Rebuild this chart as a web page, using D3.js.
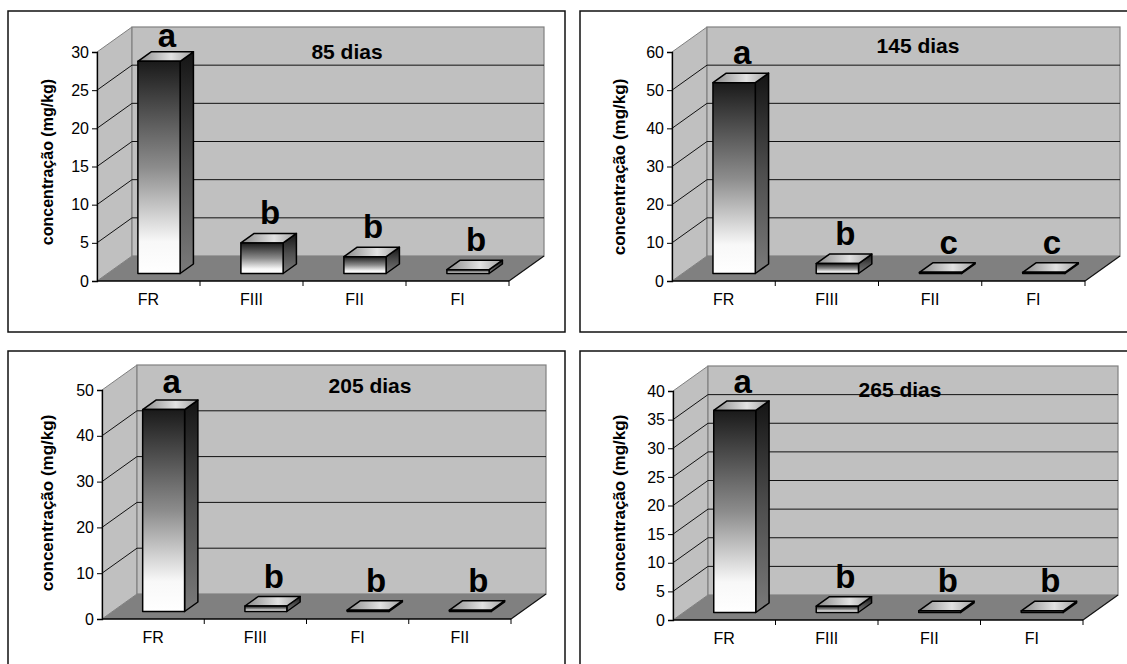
<!DOCTYPE html>
<html><head><meta charset="utf-8">
<script src="https://cdn.jsdelivr.net/npm/d3@7"></script>
<style>
body{margin:0;background:#fff}
svg{display:block}
text{font-family:"Liberation Sans",Arial,Helvetica,sans-serif}
</style>
</head><body>
<svg id="chart" width="1127" height="664"></svg>
<script>
// ---------- data ----------
const titles = ["85 dias", "145 dias", "205 dias", "265 dias"];
const yLabel = "concentração (mg/kg)";

const categories85  = ["FR", "FIII", "FII", "FI"];
const categories145 = ["FR", "FIII", "FII", "FI"];
const categories205 = ["FR", "FIII", "FI", "FII"];
const categories265 = ["FR", "FIII", "FII", "FI"];

const values85  = [27.8, 4.0, 2.2, 0.5];
const values145 = [50.0, 2.6, 0.3, 0.3];
const values205 = [44.1, 1.2, 0.3, 0.3];
const values265 = [35.3, 1.1, 0.3, 0.3];

const letters85  = ["a", "b", "b", "b"];
const letters145 = ["a", "b", "c", "c"];
const letters205 = ["a", "b", "b", "b"];
const letters265 = ["a", "b", "b", "b"];

const ticks85  = [0, 5, 10, 15, 20, 25, 30];
const ticks145 = [0, 10, 20, 30, 40, 50, 60];
const ticks205 = [0, 10, 20, 30, 40, 50];
const ticks265 = [0, 5, 10, 15, 20, 25, 30, 35, 40];

// ---------- layout ----------
const layouts = [
  {ox: 8,   oy: 11,  w: 557, h: 321, axisX: 89, y0: 270, plotW: 412, titleX: 339, titleY: 48, labX: 39, labY: 151, labSize: 16, letterGap: 5},
  {ox: 580, oy: 11,  w: 560, h: 321, axisX: 92, y0: 270, plotW: 413, titleX: 338, titleY: 42, labX: 39, labY: 156, labSize: 17, letterGap: 9},
  {ox: 8,   oy: 351, w: 557, h: 330, axisX: 94, y0: 268, plotW: 409, titleX: 362, titleY: 42, labX: 39, labY: 152, labSize: 17, letterGap: 7},
  {ox: 580, oy: 351, w: 560, h: 330, axisX: 93, y0: 269, plotW: 410, titleX: 320, titleY: 46, labX: 39, labY: 152, labSize: 17, letterGap: 8}
];
const plotH = 229, DX = 35, DY = -25, D0 = 0.3, D1 = 0.68, BAR_FRAC = 0.41;

const panels = [
  {title: titles[0], cats: categories85,  vals: values85,  letters: letters85,  ticks: ticks85},
  {title: titles[1], cats: categories145, vals: values145, letters: letters145, ticks: ticks145},
  {title: titles[2], cats: categories205, vals: values205, letters: letters205, ticks: ticks205},
  {title: titles[3], cats: categories265, vals: values265, letters: letters265, ticks: ticks265}
];

const svg = d3.select("#chart");
const defs = svg.append("defs");
const gFront = defs.append("linearGradient").attr("id", "gFront").attr("x1", 0).attr("y1", 0).attr("x2", 0).attr("y2", 1);
[[0, "#1a1a1a"], [0.5, "#8c8c8c"], [0.85, "#f8f8f8"], [1, "#ffffff"]].forEach(s => gFront.append("stop").attr("offset", s[0]).attr("stop-color", s[1]));
const gSide = defs.append("linearGradient").attr("id", "gSide").attr("x1", 0).attr("y1", 0).attr("x2", 0).attr("y2", 1);
[[0, "#141414"], [0.5, "#4e4e4e"], [1, "#7a7a7a"]].forEach(s => gSide.append("stop").attr("offset", s[0]).attr("stop-color", s[1]));
const gTop = defs.append("linearGradient").attr("id", "gTop").attr("x1", 0).attr("y1", 0).attr("x2", 1).attr("y2", 0);
[[0, "#8a8a8a"], [0.6, "#e2e2e2"], [1, "#a0a0a0"]].forEach(s => gTop.append("stop").attr("offset", s[0]).attr("stop-color", s[1]));

const pts = a => a.map(p => p.join(",")).join(" ");

panels.forEach((p, i) => {
  const L = layouts[i];
  const g = svg.append("g").attr("transform", `translate(${L.ox},${L.oy})`);
  g.append("rect").attr("x", 0).attr("y", 0).attr("width", L.w).attr("height", L.h)
    .attr("fill", "#fff").attr("stroke", "#111").attr("stroke-width", 1.5);

  const x = d3.scaleBand().domain(p.cats).range([L.axisX, L.axisX + L.plotW]);
  const yMax = p.ticks[p.ticks.length - 1];
  const y = d3.scaleLinear().domain([0, yMax]).range([L.y0, L.y0 - plotH]);
  const ax = L.axisX, y0 = L.y0, yT = y(yMax), W = L.plotW;

  // walls
  g.append("polygon").attr("points", pts([[ax, y0], [ax, yT], [ax + DX, yT + DY], [ax + DX, y0 + DY]]))
    .attr("fill", "#c0c0c0").attr("stroke", "#808080").attr("stroke-width", 1);
  g.append("rect").attr("x", ax + DX).attr("y", yT + DY).attr("width", W).attr("height", y0 - yT)
    .attr("fill", "#c0c0c0").attr("stroke", "#808080").attr("stroke-width", 1.2);
  g.append("polygon").attr("points", pts([[ax, y0], [ax + W, y0], [ax + W + DX, y0 + DY], [ax + DX, y0 + DY]]))
    .attr("fill", "#808080");

  // gridlines
  const inner = p.ticks.filter(t => t > 0 && t < yMax);
  g.selectAll(".gh").data(inner).join("line")
    .attr("x1", ax + DX).attr("x2", ax + DX + W).attr("y1", t => y(t) + DY).attr("y2", t => y(t) + DY)
    .attr("stroke", "#111").attr("stroke-width", 1);
  g.selectAll(".gd").data(inner).join("line")
    .attr("x1", ax).attr("x2", ax + DX).attr("y1", t => y(t)).attr("y2", t => y(t) + DY)
    .attr("stroke", "#111").attr("stroke-width", 1);

  // floor edges
  g.append("line").attr("x1", ax + W).attr("y1", y0).attr("x2", ax + W + DX).attr("y2", y0 + DY)
    .attr("stroke", "#111").attr("stroke-width", 1.2);

  // y axis
  const yAxis = d3.axisLeft(y).tickValues(p.ticks).tickSize(5).tickPadding(3).tickFormat(d3.format("d"));
  const ya = g.append("g").attr("transform", `translate(${ax},0)`).call(yAxis);
  ya.attr("font-size", 16).attr("font-family", '"Liberation Sans",Arial,sans-serif');
  ya.select(".domain").attr("stroke", "#000").attr("stroke-width", 1.3);
  ya.selectAll(".tick line").attr("stroke", "#000");
  ya.selectAll(".tick text").attr("fill", "#000");

  // x axis
  g.append("line").attr("x1", ax).attr("x2", ax + W).attr("y1", y0).attr("y2", y0)
    .attr("stroke", "#000").attr("stroke-width", 1.5);
  const bounds = p.cats.map(c => x(c)).concat([ax + W]).slice(1);
  g.selectAll(".xt").data(bounds).join("line")
    .attr("x1", d => d).attr("x2", d => d).attr("y1", y0).attr("y2", y0 + 5)
    .attr("stroke", "#000").attr("stroke-width", 1);
  g.selectAll(".xl").data(p.cats).join("text")
    .attr("x", c => x(c) + x.bandwidth() / 2).attr("y", y0 + 24)
    .attr("text-anchor", "middle").attr("font-size", 16).attr("fill", "#000").text(c => c);

  // bars
  const bw = x.bandwidth() * BAR_FRAC;
  const ddx = DX * (D1 - D0), ddy = DY * (D1 - D0);
  p.cats.forEach((c, k) => {
    const v = p.vals[k];
    const xl = x(c) + (x.bandwidth() - bw) / 2 + DX * D0;
    const yb = y(0) + DY * D0;
    const yt = y(v) + DY * D0;
    const bg = g.append("g").attr("stroke", "#000").attr("stroke-width", 1.5).attr("stroke-linejoin", "round");
    bg.append("polygon").attr("points", pts([[xl + bw, yt], [xl + bw + ddx, yt + ddy], [xl + bw + ddx, yb + ddy], [xl + bw, yb]]))
      .attr("fill", "url(#gSide)");
    bg.append("polygon").attr("points", pts([[xl, yt], [xl + ddx, yt + ddy], [xl + bw + ddx, yt + ddy], [xl + bw, yt]]))
      .attr("fill", "url(#gTop)");
    bg.append("rect").attr("x", xl).attr("y", yt).attr("width", bw).attr("height", Math.max(yb - yt, 0.5))
      .attr("fill", "url(#gFront)");
    g.append("text").attr("x", xl + bw / 2 + ddx * 0.6).attr("y", yt + ddy - (k === 0 ? L.letterGap : 9))
      .attr("text-anchor", "middle").attr("font-size", 33).attr("font-weight", "bold").attr("fill", "#000")
      .text(p.letters[k]);
  });

  // title
  g.append("text").attr("x", L.titleX).attr("y", L.titleY).attr("text-anchor", "middle")
    .attr("font-size", 21).attr("font-weight", "bold").attr("fill", "#000").text(p.title);

  // y label
  g.append("text").attr("transform", `translate(${L.labX},${L.labY}) rotate(-90)`)
    .attr("text-anchor", "middle").attr("dominant-baseline", "central")
    .attr("font-size", L.labSize).attr("font-weight", "bold").attr("fill", "#000").text(yLabel);
});
</script>
</body></html>
